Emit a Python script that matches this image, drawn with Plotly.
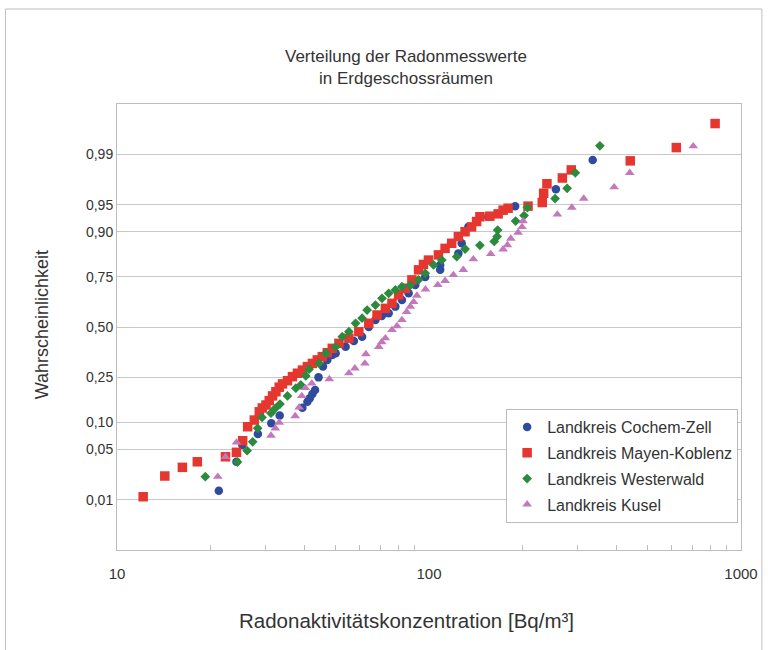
import plotly.graph_objects as go
from statistics import NormalDist

# ---------------- data ----------------
cz_x = [21.2, 24.15, 25.23, 28.28, 31.22, 33.23, 39.29, 40.76, 41.49, 42.29, 43.13, 44.25, 45.73,
        47.21, 48.98, 50.22, 54.04, 57.43, 61.04, 64.12, 67.36, 70.56, 74.26, 78.01, 81.9, 86.04,
        90.37, 97.25, 108.6, 108.6, 124.2, 127.3, 133.7, 154.8, 188.8, 255.1, 334.7]
cz_p = [0.0138, 0.0349, 0.0561, 0.0749, 0.0975, 0.1168, 0.139, 0.157, 0.169, 0.184, 0.198, 0.249,
        0.298, 0.329, 0.353, 0.362, 0.395, 0.425, 0.448, 0.500, 0.538, 0.559, 0.573, 0.608, 0.642,
        0.675, 0.714, 0.749, 0.779, 0.798, 0.839, 0.870, 0.911, 0.931, 0.948, 0.968, 0.9877]

mk_x = [12.13, 14.23, 16.2, 18.09, 22.27, 24.15, 25.28, 26.23, 27.55, 28.58, 29.22, 30.03, 30.76,
        31.52, 32.31, 33.11, 33.92, 35.19, 36.51, 37.88, 39.29, 40.76, 42.29, 43.86, 45.5, 47.2,
        48.98, 51.45, 55.36, 59.58, 64.12, 68.15, 72.48, 76.08, 79.92, 83.97, 88.13, 92.57, 96.0,
        99.6, 107.2, 112.6, 118.2, 124.2, 130.5, 136.9, 142.1, 145.6, 156.7, 166.6, 172.8, 179.3,
        207.7, 230.7, 233.1, 238.8, 267.6, 285.8, 441.6, 620.4, 826.0]
mk_p = [0.0112, 0.0225, 0.0295, 0.0349, 0.0404, 0.0459, 0.063, 0.0898, 0.1053, 0.127, 0.138, 0.147,
        0.161, 0.177, 0.192, 0.209, 0.222, 0.235, 0.252, 0.267, 0.281, 0.297, 0.312, 0.329, 0.345,
        0.365, 0.387, 0.413, 0.440, 0.475, 0.520, 0.564, 0.599, 0.625, 0.667, 0.699, 0.737, 0.779,
        0.800, 0.816, 0.834, 0.855, 0.870, 0.888, 0.900, 0.911, 0.922, 0.931, 0.932, 0.936, 0.942,
        0.945, 0.948, 0.953, 0.964, 0.973, 0.9775, 0.9827, 0.9873, 0.9921, 0.9969]

ww_x = [19.19, 24.32, 26.12, 27.22, 28.23, 29.16, 31.16, 32.16, 33.29, 35.19, 37.43, 38.83, 40.29,
        41.27, 44.42, 46.66, 50.22, 52.72, 55.36, 58.16, 61.04, 63.34, 67.36, 70.71, 74.26, 78.01,
        81.9, 87.1, 92.57, 97.25, 103.4, 109.9, 122.7, 130.5, 145.6, 161.8, 165.4, 166.0, 189.5,
        201.7, 206.7, 253.6, 277.2, 294.4, 352.9]
ww_p = [0.0220, 0.0346, 0.0480, 0.0613, 0.0864, 0.112, 0.123, 0.137, 0.150, 0.177, 0.205, 0.218,
        0.255, 0.285, 0.312, 0.362, 0.395, 0.448, 0.475, 0.520, 0.547, 0.590, 0.616, 0.650, 0.675,
        0.691, 0.706, 0.712, 0.737, 0.765, 0.798, 0.816, 0.828, 0.853, 0.864, 0.875, 0.888, 0.904,
        0.923, 0.933, 0.946, 0.958, 0.969, 0.981, 0.9926]

ku_x = [21.04, 22.27, 24.15, 31.16, 32.16, 33.11, 37.24, 38.35, 39.11, 40.17, 42.1, 47.9, 55.36,
        57.87, 62.3, 62.75, 69.02, 70.56, 72.48, 76.08, 78.94, 81.9, 84.76, 87.1, 89.25, 91.44,
        97.45, 106.7, 112.6, 119.7, 128.8, 138.7, 157.7, 172.8, 178.4, 182.9, 193.0, 198.7, 200.2,
        257.9, 286.9, 313.3, 392.0, 440.0, 703.0]
ku_p = [0.0220, 0.0404, 0.0603, 0.0721, 0.0864, 0.0994, 0.1155, 0.140, 0.177, 0.206, 0.224, 0.242,
        0.267, 0.289, 0.312, 0.358, 0.395, 0.420, 0.440, 0.484, 0.505, 0.538, 0.580, 0.608, 0.632,
        0.664, 0.694, 0.714, 0.733, 0.758, 0.779, 0.819, 0.837, 0.852, 0.865, 0.883, 0.898, 0.911,
        0.923, 0.935, 0.946, 0.958, 0.970, 0.981, 0.9925]

series_names = ["Landkreis Cochem-Zell", "Landkreis Mayen-Koblenz",
                "Landkreis Westerwald", "Landkreis Kusel"]

y_tick_probs = [0.01, 0.05, 0.10, 0.25, 0.50, 0.75, 0.90, 0.95, 0.99]
y_tick_text = ["0,01", "0,05", "0,10", "0,25", "0,50", "0,75", "0,90", "0,95", "0,99"]
x_tick_vals = [10, 100, 1000]
x_tick_text = ["10", "100", "1000"]
x_minor_vals = [20, 30, 40, 50, 60, 70, 80, 90, 200, 300, 400, 500, 600, 700, 800, 900]

# ---------------- figure ----------------
nd = NormalDist()
def probit(ps):
    return [nd.inv_cdf(p) for p in ps]

styles = [
    dict(symbol="circle", size=8.5, color="#2F4B9E"),
    dict(symbol="square", size=9.5, color="#E5372F"),
    dict(symbol="diamond", size=7.5, color="#2B8A3C"),
    dict(symbol="triangle-up", size=8.5, color="#C478BC"),
]
data = [(cz_x, cz_p), (mk_x, mk_p), (ww_x, ww_p), (ku_x, ku_p)]

fig = go.Figure()
for i, ((xs, ps), name, st) in enumerate(zip(data, series_names, styles)):
    fig.add_trace(go.Scatter(
        x=xs, y=probit(ps), mode="markers", name=name,
        legendgroup="g%d" % i,
        marker=dict(symbol=st["symbol"], size=st["size"], color=st["color"],
                    line=dict(width=0)),
    ))

font_family = "Liberation Sans, Arial, sans-serif"
grid_c = "#C8C8C8"
axis_c = "#BDBDBD"

fig.update_layout(
    width=770, height=650,
    margin=dict(l=117, r=26, t=104, b=100),
    paper_bgcolor="white", plot_bgcolor="white",
    font=dict(family=font_family, color="#333333"),
    showlegend=True,
    legend=dict(x=0.6236, y=0.316, xanchor="left", yanchor="top",
                bordercolor="#BBBBBB", borderwidth=1, bgcolor="white",
                font=dict(size=16, color="#333333"), tracegroupgap=2,
                itemsizing="trace"),
    xaxis=dict(type="log", range=[1, 3], tickmode="array",
               tickvals=x_tick_vals, ticktext=x_tick_text,
               tickfont=dict(size=15, color="#333333"),
               showgrid=False, zeroline=False,
               showline=True, linecolor=axis_c, linewidth=1, mirror=True,
               ticks="", ticklabelstandoff=10,
               minor=dict(tickmode="array", tickvals=x_minor_vals, ticks="inside",
                          ticklen=5, tickcolor=axis_c, showgrid=False)),
    yaxis=dict(range=[-3, 3], tickmode="array",
               tickvals=probit(y_tick_probs), ticktext=y_tick_text,
               tickfont=dict(size=14, color="#333333"),
               showgrid=True, gridcolor=grid_c, gridwidth=1, zeroline=False,
               showline=True, linecolor=axis_c, linewidth=1, mirror=True,
               ticks=""),
)

annotations = [
    dict(text="Verteilung der Radonmesswerte<br>in Erdgeschossräumen",
         x=(407 - 117) / 627, y=(550 - 67) / 446, xref="paper", yref="paper",
         showarrow=False, font=dict(size=17, color="#333333"),
         xanchor="center", yanchor="middle", align="center"),
    dict(text="Radonaktivitätskonzentration [Bq/m³]",
         x=(408 - 117) / 627, y=(550 - 620) / 446, xref="paper", yref="paper",
         showarrow=False, font=dict(size=20.5, color="#333333"),
         xanchor="center", yanchor="middle"),
    dict(text="Wahrscheinlichkeit",
         x=(42 - 117) / 627, y=(550 - 325) / 446, xref="paper", yref="paper",
         showarrow=False, font=dict(size=18, color="#333333"), textangle=-90,
         xanchor="center", yanchor="middle"),
]
fig.update_layout(annotations=annotations)

fig.add_shape(type="rect", xref="paper", yref="paper",
              x0=(5 - 117) / 627, x1=(765 - 117) / 627,
              y0=(550 - 655) / 446, y1=(550 - 9) / 446,
              line=dict(color="#BFBFBF", width=1), layer="below")

fig.write_html("out.html")
